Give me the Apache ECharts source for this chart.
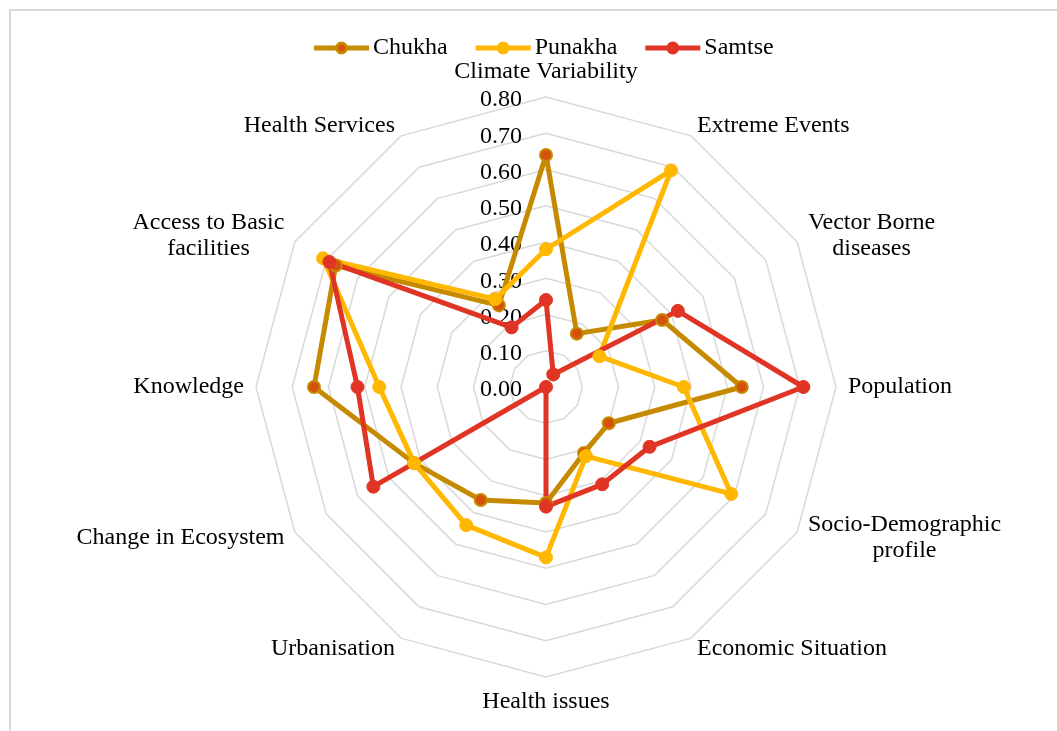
<!DOCTYPE html>
<html>
<head>
<meta charset="utf-8">
<script src="https://cdn.jsdelivr.net/npm/echarts@6/dist/echarts.min.js"></script>
<style>
  html, body { margin: 0; padding: 0; background: #ffffff; }
  #chart { width: 1057px; height: 731px; }
</style>
</head>
<body>
<div id="chart"></div>
<script>
// Indicators in clockwise order starting from the top
const categories = [
  'Climate Variability', 'Extreme Events', 'Vector Borne\ndiseases', 'Population',
  'Socio-Demographic\nprofile', 'Economic Situation', 'Health issues', 'Urbanisation',
  'Change in Ecosystem', 'Knowledge', 'Access to Basic\nfacilities', 'Health Services'
];
const chukha  = [0.64, 0.17, 0.37, 0.54, 0.20, 0.21, 0.32, 0.36, 0.42, 0.64, 0.67, 0.26];
const punakha = [0.38, 0.69, 0.17, 0.38, 0.59, 0.22, 0.47, 0.44, 0.42, 0.46, 0.71, 0.28];
const samtse  = [0.24, 0.04, 0.42, 0.71, 0.33, 0.31, 0.33, 0.00, 0.55, 0.52, 0.69, 0.19];
const seriesNames = ['Chukha', 'Punakha', 'Samtse'];
const axisMax = 0.8;

const FONT = '"Liberation Serif", "Times New Roman", serif';
const FONT_SIZE = 24;

// ECharts lays radar indicators counter-clockwise; reorder so they run clockwise
const order = categories.map((_, i) => (categories.length - i) % categories.length);
const reorder = arr => order.map(i => arr[i]);

const indicator = reorder(categories).map((name, i) => {
  const ind = { name: name, max: axisMax, min: 0 };
  if (i === 0) ind.axisLabel = { show: true };
  return ind;
});

// Multi-line names: every line centred inside a box as wide as the longest line
const measureCtx = document.createElement('canvas').getContext('2d');
measureCtx.font = FONT_SIZE + 'px ' + FONT;
const nameRich = {};
const nameKeys = {};
categories.forEach((name, k) => {
  const parts = name.split('\n');
  if (parts.length > 1) {
    const w = Math.ceil(Math.max(...parts.map(p => measureCtx.measureText(p).width)));
    const key = 'n' + k;
    nameKeys[name] = key;
    nameRich[key] = { width: w, align: 'center', fontFamily: FONT, fontSize: FONT_SIZE, color: '#000000', lineHeight: 26 };
  }
});
function nameFormatter(name) {
  const key = nameKeys[name];
  if (!key) return name;
  return name.split('\n').map(p => '{' + key + '|' + p + '}').join('\n');
}

// Legend glyph: a line with a circular marker in the middle
const legendIcon = 'path://M1.5,4 L22.5,4 L22.5,6 L1.5,6 Z' +
  ' M32.5,5 A5,5 0 1,1 22.5,5 A5,5 0 1,1 32.5,5 Z' +
  ' M32.5,4 L53.5,4 L53.5,6 L32.5,6 Z';

const chart = echarts.init(document.getElementById('chart'), null, { renderer: 'canvas' });
chart.setOption({
  backgroundColor: '#ffffff',
  animation: false,
  graphic: [{
    type: 'rect',
    shape: { x: 10, y: 10, width: 1070, height: 740 },
    style: { fill: 'none', stroke: '#D9D9D9', lineWidth: 2 },
    silent: true
  }],
  legend: {
    top: 31,
    left: 309,
    itemWidth: 55,
    itemHeight: 10,
    itemGap: 28,
    icon: legendIcon,
    textStyle: { fontFamily: FONT, fontSize: FONT_SIZE, color: '#000000', padding: [0, 0, 0, -1] },
    data: [
      { name: seriesNames[0], itemStyle: { color: '#D4520C', borderColor: '#C68A00', borderWidth: 3 } },
      { name: seriesNames[1], itemStyle: { color: '#FFB700', borderColor: '#FFB700', borderWidth: 3 } },
      { name: seriesNames[2], itemStyle: { color: '#E03424', borderColor: '#E03424', borderWidth: 3 } }
    ]
  },
  radar: {
    center: [546, 387],
    radius: 290,
    startAngle: 90,
    splitNumber: 8,
    shape: 'polygon',
    indicator: indicator,
    axisName: {
      color: '#000000',
      fontFamily: FONT,
      fontSize: FONT_SIZE,
      lineHeight: 26,
      formatter: nameFormatter,
      rich: nameRich
    },
    nameGap: 12,
    axisLine: { show: false },
    axisTick: { show: false },
    axisLabel: {
      show: false,
      color: '#000000',
      fontFamily: FONT,
      fontSize: FONT_SIZE,
      margin: 24,
      formatter: v => '{t|' + Number(v).toFixed(2) + '}',
      rich: {
        t: { fontFamily: FONT, fontSize: FONT_SIZE, color: '#000000', padding: [6, 0, 0, 0] }
      }
    },
    splitLine: { lineStyle: { color: '#D9D9D9', width: 1.5 } },
    splitArea: { show: false }
  },
  series: [{
    type: 'radar',
    symbol: 'circle',
    z: 2,
    data: [
      {
        name: seriesNames[0], value: reorder(chukha), symbolSize: 12,
        lineStyle: { color: '#C68A00', width: 5 },
        itemStyle: { color: '#D4520C', borderColor: '#C68A00', borderWidth: 2 }
      },
      {
        name: seriesNames[1], value: reorder(punakha), symbolSize: 13,
        lineStyle: { color: '#FFB700', width: 5 },
        itemStyle: { color: '#FFB700', borderColor: '#FFB700', borderWidth: 1 }
      },
      {
        name: seriesNames[2], value: reorder(samtse), symbolSize: 13,
        lineStyle: { color: '#E03424', width: 5 },
        itemStyle: { color: '#E03424', borderColor: '#E03424', borderWidth: 1 }
      }
    ]
  }]
});
</script>
</body>
</html>
